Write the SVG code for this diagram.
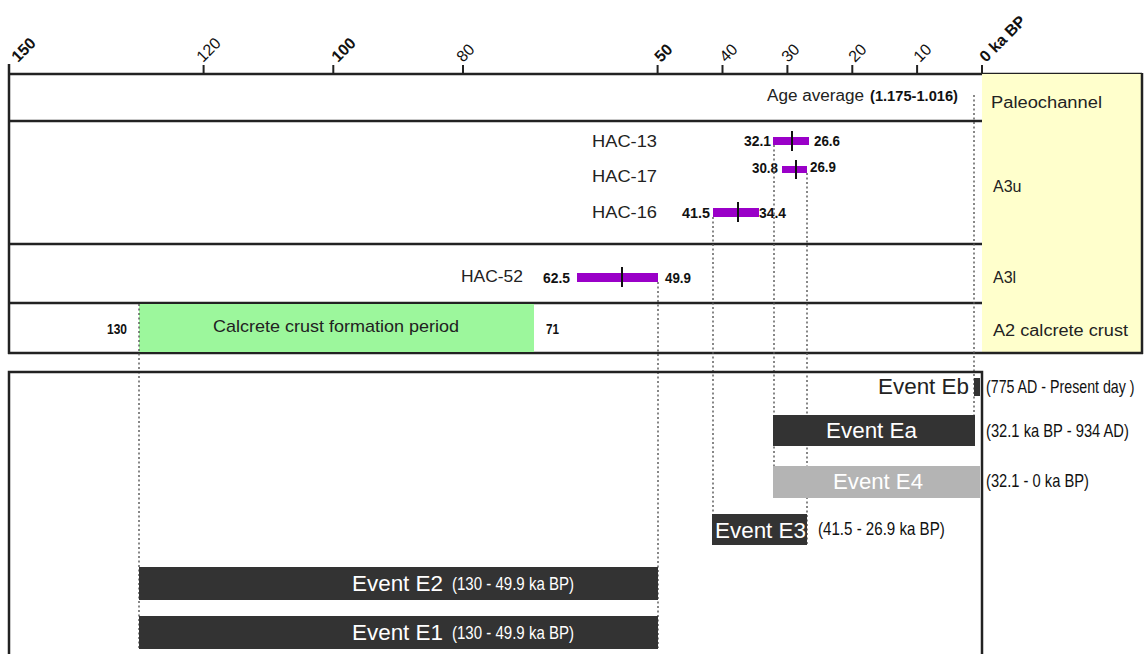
<svg xmlns="http://www.w3.org/2000/svg" width="1148" height="654" viewBox="0 0 1148 654">
<style>
.ln{stroke:#222;stroke-width:2.5;fill:none}
.tk{stroke:#222;stroke-width:2}
.dot{stroke:#555;stroke-width:1.4;stroke-dasharray:2 2.5;fill:none}
.t{font-family:"Liberation Sans",Arial,sans-serif;fill:#222}
.ab{font-family:"Liberation Sans",Arial,sans-serif;font-size:16px;fill:#111}
.b{font-weight:bold}
.num{font-family:"Liberation Sans",Arial,sans-serif;font-size:14px;font-weight:bold;fill:#111}
.bar{fill:#9a00c8}
.mk{stroke:#111;stroke-width:2}
.ev{fill:#333}
.evt{font-family:"Liberation Sans",Arial,sans-serif;font-size:22px;fill:#fff}
.par{font-family:"Liberation Sans",Arial,sans-serif;font-size:18px;fill:#111}
.pw{font-family:"Liberation Sans",Arial,sans-serif;font-size:18px;fill:#fff}
</style>
<rect width="1148" height="654" fill="#fff"/>
<g id="axis">
<line class="ln" x1="9" y1="74" x2="1142" y2="74"/>
<line class="tk" x1="9" y1="64" x2="9" y2="74"/>
<line class="tk" x1="203.6" y1="65" x2="203.6" y2="74"/>
<line class="tk" x1="333.3" y1="65" x2="333.3" y2="74"/>
<line class="tk" x1="463" y1="65" x2="463" y2="74"/>
<line class="tk" x1="657.6" y1="65" x2="657.6" y2="74"/>
<line class="tk" x1="722.5" y1="65" x2="722.5" y2="74"/>
<line class="tk" x1="787.4" y1="65" x2="787.4" y2="74"/>
<line class="tk" x1="852.3" y1="65" x2="852.3" y2="74"/>
<line class="tk" x1="917.1" y1="65" x2="917.1" y2="74"/>
<line class="tk" x1="982" y1="65" x2="982" y2="74"/>
<text class="ab b" transform="translate(18,63) rotate(-45)">150</text>
<text class="ab" transform="translate(203,63) rotate(-45)">120</text>
<text class="ab b" transform="translate(338,63) rotate(-45)">100</text>
<text class="ab" transform="translate(463,63) rotate(-45)">80</text>
<text class="ab b" transform="translate(661,63) rotate(-45)">50</text>
<text class="ab" transform="translate(726,63) rotate(-45)">40</text>
<text class="ab" transform="translate(788,63) rotate(-45)">30</text>
<text class="ab" transform="translate(855,63) rotate(-45)">20</text>
<text class="ab" transform="translate(920,63) rotate(-45)">10</text>
<text class="ab b" transform="translate(986,63) rotate(-45)">0 ka BP</text>
</g>
<g id="units-table">
<rect x="982" y="74" width="160" height="279" fill="#ffffcc"/>
<line class="ln" x1="9" y1="64" x2="9" y2="354"/>
<line class="ln" x1="1142" y1="73" x2="1142" y2="354"/>
<line class="ln" x1="8" y1="353" x2="1143" y2="353"/>
<line class="ln" x1="9" y1="121" x2="982" y2="121"/>
<line class="ln" x1="9" y1="244" x2="982" y2="244"/>
<line class="ln" x1="9" y1="303" x2="982" y2="303"/>
<text class="t" x="991" y="108" font-size="16" textLength="111" lengthAdjust="spacingAndGlyphs">Paleochannel</text>
<text class="t" x="993" y="192" font-size="16">A3u</text>
<text class="t" x="993" y="283" font-size="16">A3l</text>
<text class="t" x="993" y="336" font-size="16" textLength="135" lengthAdjust="spacingAndGlyphs">A2 calcrete crust</text>
</g>
<g id="age-average">
<text class="t" x="767" y="101" font-size="16" textLength="97" lengthAdjust="spacingAndGlyphs">Age average</text>
<text class="num" x="870" y="101" font-size="13" textLength="88" lengthAdjust="spacingAndGlyphs">(1.175-1.016)</text>
</g>
<g id="hac-13">
<text class="t" x="592" y="147" font-size="17" textLength="65" lengthAdjust="spacingAndGlyphs">HAC-13</text>
<rect class="bar" x="773" y="137" width="36" height="8"/>
<line class="mk" x1="792" y1="131" x2="792" y2="151"/>
<text class="num" x="771" y="146" text-anchor="end" textLength="27" lengthAdjust="spacingAndGlyphs">32.1</text>
<text class="num" x="814" y="146" textLength="26" lengthAdjust="spacingAndGlyphs">26.6</text>
</g>
<g id="hac-17">
<text class="t" x="592" y="182" font-size="17" textLength="65" lengthAdjust="spacingAndGlyphs">HAC-17</text>
<rect class="bar" x="782" y="166" width="25" height="7"/>
<line class="mk" x1="796" y1="160" x2="796" y2="179"/>
<text class="num" x="778" y="173" text-anchor="end" textLength="26" lengthAdjust="spacingAndGlyphs">30.8</text>
<text class="num" x="810" y="172" textLength="26" lengthAdjust="spacingAndGlyphs">26.9</text>
</g>
<g id="hac-16">
<text class="t" x="592" y="218" font-size="17" textLength="65" lengthAdjust="spacingAndGlyphs">HAC-16</text>
<rect class="bar" x="713" y="208" width="46" height="9"/>
<line class="mk" x1="738" y1="202" x2="738" y2="222"/>
<text class="num" x="710" y="218" text-anchor="end" textLength="28" lengthAdjust="spacingAndGlyphs">41.5</text>
<text class="num" x="759" y="218" textLength="27" lengthAdjust="spacingAndGlyphs">34.4</text>
</g>
<g id="hac-52">
<text class="t" x="523" y="282" font-size="17" text-anchor="end" textLength="62" lengthAdjust="spacingAndGlyphs">HAC-52</text>
<rect class="bar" x="577" y="273" width="81" height="9"/>
<line class="mk" x1="622" y1="267" x2="622" y2="287"/>
<text class="num" x="570" y="283" text-anchor="end" textLength="27" lengthAdjust="spacingAndGlyphs">62.5</text>
<text class="num" x="665" y="283" textLength="26" lengthAdjust="spacingAndGlyphs">49.9</text>
</g>
<g id="calcrete">
<rect x="139" y="304" width="395" height="48" fill="#9cf79c"/>
<text class="num" x="127" y="334" text-anchor="end" textLength="20" lengthAdjust="spacingAndGlyphs">130</text>
<text class="t" x="336" y="332" font-size="17" text-anchor="middle" textLength="246" lengthAdjust="spacingAndGlyphs">Calcrete crust formation period</text>
<text class="num" x="546" y="334" textLength="13" lengthAdjust="spacingAndGlyphs">71</text>
</g>
<g id="connectors">
<line class="dot" x1="974" y1="95" x2="974" y2="446"/>
<line class="dot" x1="774" y1="145" x2="774" y2="498"/>
<line class="dot" x1="807" y1="173" x2="807" y2="545"/>
<line class="dot" x1="713" y1="217" x2="713" y2="545"/>
<line class="dot" x1="658" y1="282" x2="658" y2="648"/>
<line class="dot" x1="139" y1="304" x2="139" y2="648"/>
</g>
<g id="events-frame">
<rect class="ln" x="9" y="372" width="973" height="300"/>
</g>
<g id="event-eb">
<rect x="974" y="378" width="6" height="18" fill="#333"/>
<text class="t" x="969" y="394" font-size="22" text-anchor="end" fill="#111" textLength="91" lengthAdjust="spacingAndGlyphs">Event Eb</text>
<text class="par" transform="translate(986,393) scale(0.79,1)">(775 AD - Present day )</text>
</g>
<g id="event-ea">
<rect class="ev" x="773" y="415" width="202" height="31"/>
<text class="evt" x="826" y="438" textLength="91" lengthAdjust="spacingAndGlyphs">Event Ea</text>
<text class="par" transform="translate(986,437) scale(0.818,1)">(32.1 ka BP - 934 AD)</text>
</g>
<g id="event-e4">
<rect x="773" y="466" width="207" height="32" fill="#b4b4b4"/>
<text class="evt" x="833" y="489" textLength="90" lengthAdjust="spacingAndGlyphs">Event E4</text>
<text class="par" transform="translate(986,487) scale(0.817,1)">(32.1 - 0 ka BP)</text>
</g>
<g id="event-e3">
<rect class="ev" x="712" y="514" width="95" height="31"/>
<text class="evt" x="715" y="538" textLength="91" lengthAdjust="spacingAndGlyphs">Event E3</text>
<text class="par" transform="translate(818,535) scale(0.84,1)">(41.5 - 26.9 ka BP)</text>
</g>
<g id="event-e2">
<rect class="ev" x="139" y="567" width="519" height="33"/>
<text class="evt" x="352" y="591" textLength="91" lengthAdjust="spacingAndGlyphs">Event E2</text>
<text class="pw" transform="translate(452,590) scale(0.836,1)">(130 - 49.9 ka BP)</text>
</g>
<g id="event-e1">
<rect class="ev" x="139" y="616" width="519" height="33"/>
<text class="evt" x="352" y="640" textLength="91" lengthAdjust="spacingAndGlyphs">Event E1</text>
<text class="pw" transform="translate(452,639) scale(0.836,1)">(130 - 49.9 ka BP)</text>
</g>
</svg>
